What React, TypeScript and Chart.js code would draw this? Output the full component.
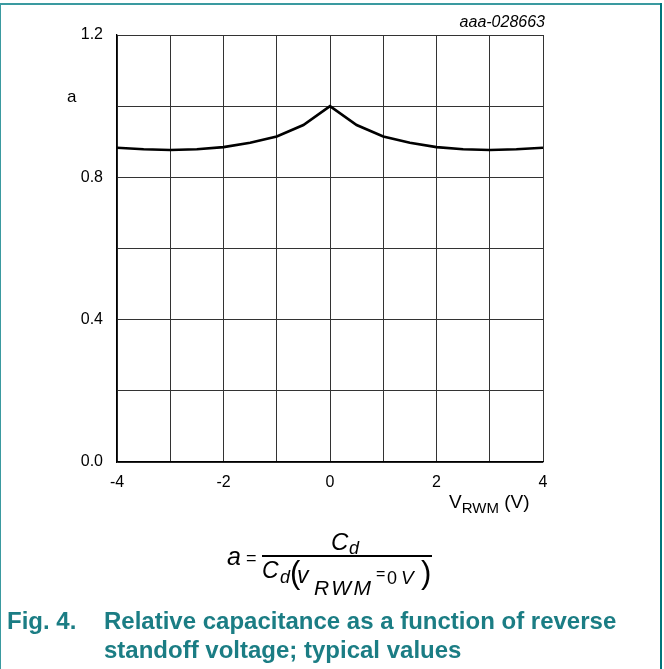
import React, { useEffect, useRef } from "react";
import { Chart, registerables } from "chart.js";

Chart.register(...registerables);

const voltages = [-4, -3.5, -3, -2.5, -2, -1.5, -1, -0.5, 0, 0.5, 1, 1.5, 2, 2.5, 3, 3.5, 4];
const relCap = [0.883, 0.879, 0.877, 0.879, 0.885, 0.897, 0.915, 0.947, 1.0, 0.947, 0.915, 0.897, 0.885, 0.879, 0.877, 0.879, 0.883];
const yLabeled = [0, 0.4, 0.8, 1.2];
const xLabeled = [-4, -2, 0, 2, 4];

const TEAL = "#1b7d84";
const FONT = "'Liberation Sans', Arial, sans-serif";

export default function App() {
  const ref = useRef<HTMLCanvasElement | null>(null);

  useEffect(() => {
    document.body.style.margin = "0";
    const ctx = ref.current!;
    const chart = new Chart(ctx, {
      type: "line",
      data: {
        datasets: [
          {
            data: voltages.map((v, i) => ({ x: v, y: relCap[i] })),
            borderColor: "#000",
            borderWidth: 2.6,
            pointRadius: 0,
            tension: 0,
            fill: false,
          },
        ],
      },
      options: {
        animation: false,
        responsive: false,
        maintainAspectRatio: false,
        layout: { padding: { left: 0, top: 35, right: 121, bottom: 177 } },
        plugins: { legend: { display: false }, tooltip: { enabled: false } },
        scales: {
          x: {
            type: "linear",
            min: -4,
            max: 4,
            afterFit: (s: any) => {
              s.height = 30;
            },
            ticks: {
              stepSize: 1,
              autoSkip: false,
              maxRotation: 0,
              padding: 11,
              color: "#000",
              font: { family: FONT, size: 16 },
              callback: (v: any) => (xLabeled.includes(Number(v)) ? String(v) : ""),
            },
            grid: { color: "#333", lineWidth: 1, drawTicks: false },
            border: { color: "#000", width: 1.3 },
          },
          y: {
            type: "linear",
            min: 0,
            max: 1.2,
            afterFit: (s: any) => {
              s.width = 117;
            },
            ticks: {
              stepSize: 0.2,
              autoSkip: false,
              padding: 14,
              color: "#000",
              font: { family: FONT, size: 16 },
              callback: (v: any) =>
                yLabeled.some((t) => Math.abs(t - Number(v)) < 1e-6) ? Number(v).toFixed(1) : "",
            },
            grid: { color: "#333", lineWidth: 1, drawTicks: false },
            border: { color: "#000", width: 1.3 },
          },
        },
      },
    });
    return () => chart.destroy();
  }, []);

  const abs = (l: number, t: number, extra: React.CSSProperties = {}): React.CSSProperties => ({
    position: "absolute",
    left: l,
    top: t,
    whiteSpace: "nowrap",
    lineHeight: 1,
    ...extra,
  });
  // place text by its baseline (Liberation Sans, line-height 1)
  const base = (l: number, baseline: number, size: number, italic: boolean, extra: React.CSSProperties = {}) =>
    abs(l, baseline - 0.8465 * size, { fontSize: size, fontStyle: italic ? "italic" : "normal", ...extra });

  return (
    <div
      style={{
        position: "relative",
        width: 664,
        height: 669,
        overflow: "hidden",
        background: "#fff",
        fontFamily: FONT,
        color: "#000",
      }}
    >
      <div style={{ position: "absolute", left: 0, top: 3, width: 662, height: 2, background: "#3a9aa0" }} />
      <div style={{ position: "absolute", left: 0, top: 3, width: 1, height: 680, background: "#3a9aa0" }} />
      <div style={{ position: "absolute", left: 660, top: 3, width: 2, height: 680, background: "#00767c" }} />
      <canvas ref={ref} width={664} height={669} style={{ position: "absolute", left: 0, top: 0, width: 664, height: 669 }} />
      <div style={abs(443, 14, { fontSize: 16, fontStyle: "italic", width: 102, textAlign: "right" })}>aaa-028663</div>
      <div style={abs(67, 88, { fontSize: 17 })}>a</div>
      <div style={abs(449, 492, { fontSize: 19 })}>
        V<span style={{ fontSize: 15, position: "relative", top: 5 }}>RWM</span> (V)
      </div>
      {/* formula */}
      <div style={base(227, 565, 25, true)}>a</div>
      <div style={base(246, 564, 18, false)}>=</div>
      <div style={{ position: "absolute", left: 262, top: 555, width: 170, height: 2, background: "#000" }} />
      <div style={base(331, 550, 24, true)}>C</div>
      <div style={base(349, 554, 18, true)}>d</div>
      <div style={base(262, 578, 23, true)}>C</div>
      <div style={base(280, 583, 18, true)}>d</div>
      <div style={base(290, 583, 31, false)}>(</div>
      <div style={base(297, 583, 23, true)}>v</div>
      <div style={base(314, 595, 21, true, { letterSpacing: 2.5 })}>RWM</div>
      <div style={base(376, 580, 16, false)}>=</div>
      <div style={base(387, 584, 18, false)}>0</div>
      <div style={base(401, 584, 19, true)}>V</div>
      <div style={base(421, 583, 31, false)}>)</div>
      {/* caption */}
      <div style={abs(7, 609, { fontSize: 24, fontWeight: "bold", color: TEAL })}>Fig. 4.</div>
      <div style={abs(104, 609, { fontSize: 24, fontWeight: "bold", color: TEAL })}>
        Relative capacitance as a function of reverse
      </div>
      <div style={abs(104, 638, { fontSize: 24, fontWeight: "bold", color: TEAL })}>
        standoff voltage; typical values
      </div>
    </div>
  );
}
